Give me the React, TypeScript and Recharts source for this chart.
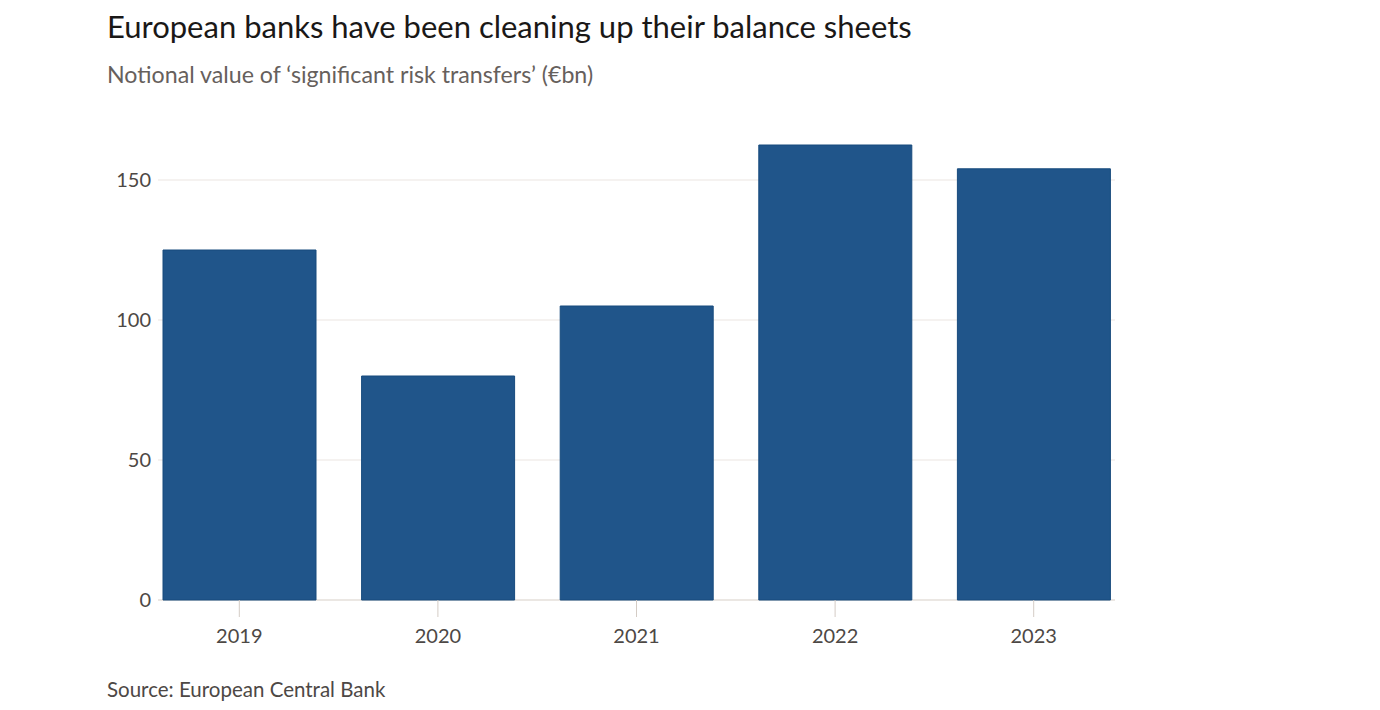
import React from 'react';
import { BarChart, Bar, XAxis, YAxis, CartesianGrid } from 'recharts';

const years = ['2019', '2020', '2021', '2022', '2023'];
const values = [125, 80, 105, 162.5, 154];
const yTicks = [0, 50, 100, 150];

const data = years.map((y, i) => ({ year: y, value: values[i] }));

const FONT = 'Lato, "Open Sans", sans-serif';

const YTick = (props: any) => {
  const { y, payload } = props;
  return (
    <text x={151} y={y} dy={7} textAnchor="end" fontSize={20} fill="#4d4845" fontFamily={FONT}>
      {payload.value}
    </text>
  );
};

const GridLine = (props: any) => {
  const { y1, y2, index, y, height } = props;
  if (typeof y === 'number' && Math.abs(y1 - y) < 1) return <g key={`g-${index}`} />;
  const isZero = typeof y === 'number' && typeof height === 'number' && Math.abs(y1 - (y + height)) < 1;
  return (
    <line
      key={`g-${index}`}
      x1={158}
      x2={1115}
      y1={y1}
      y2={y2}
      stroke={isZero ? '#d8cfc7' : '#ebe6e1'}
      strokeWidth={1.2}
    />
  );
};

export default function App() {
  return (
    <div style={{ position: 'absolute', left: 0, top: 0, width: 1380, height: 710, background: '#fff', fontFamily: FONT }}>
      <div style={{ position: 'absolute', left: 107, top: 7, fontSize: 31, color: '#1a1817', whiteSpace: 'nowrap' }}>
        European banks have been cleaning up their balance sheets
      </div>
      <div style={{ position: 'absolute', left: 107, top: 60, fontSize: 23.2, color: '#66605c', whiteSpace: 'nowrap' }}>
        Notional value of ‘significant risk transfers’ (€bn)
      </div>
      <div style={{ position: 'absolute', left: 107, top: 677, fontSize: 20.5, color: '#4d4845', whiteSpace: 'nowrap' }}>
        Source: European Central Bank
      </div>
      <div style={{ position: 'absolute', left: 0, top: 0 }}>
        <BarChart width={1380} height={710} data={data} margin={{ top: 110, right: 247, bottom: 80, left: 0 }}>
          <CartesianGrid vertical={false} horizontal={<GridLine />} />
          <YAxis
            width={140}
            domain={[0, 175]}
            ticks={yTicks}
            axisLine={false}
            tickLine={false}
            tick={<YTick />}
            interval={0}
          />
          <XAxis
            dataKey="year"
            axisLine={false}
            height={30}
            tickSize={17}
            tickMargin={12}
            tickLine={{ stroke: '#d4ccc5' }}
            tick={{ fontSize: 20, fill: '#4d4845', fontFamily: FONT }}
            interval={0}
          />
          <Bar dataKey="value" fill="#20558a" stroke="#174a7d" strokeWidth={1} barSize={153} isAnimationActive={false} />
        </BarChart>
      </div>
    </div>
  );
}
